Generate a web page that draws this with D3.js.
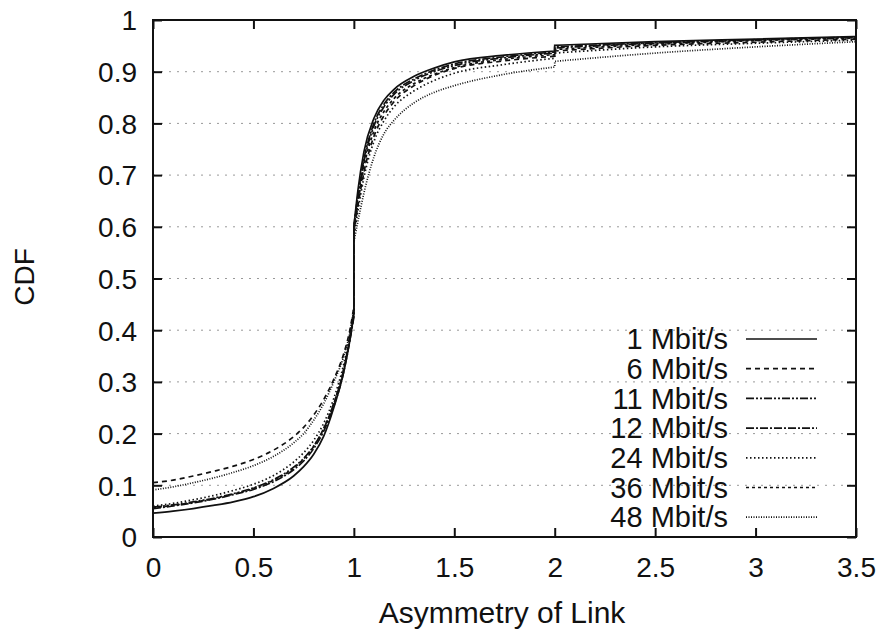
<!DOCTYPE html>
<html><head><meta charset="utf-8">
<script src="https://cdn.jsdelivr.net/npm/d3@7"></script>
<style>body{margin:0;background:#fff;} text{font-family:"Liberation Sans",Arial,Helvetica,sans-serif;fill:#111;}</style>
</head><body><svg id="c" width="881" height="634"></svg>
<script>
const xGrid = [0, 0.1, 0.2, 0.3, 0.4, 0.5, 0.6, 0.7, 0.75, 0.8, 0.85, 0.9, 0.95, 0.98, 1.0, 1.0, 1.02, 1.05, 1.1, 1.15, 1.2, 1.3, 1.4, 1.5, 1.75, 2.0, 2.0, 2.5, 3.0, 3.5];
const seriesNames = ["1 Mbit/s", "6 Mbit/s", "11 Mbit/s", "12 Mbit/s", "24 Mbit/s", "36 Mbit/s", "48 Mbit/s"];
const cdf1  = [0.046,0.050,0.055,0.061,0.068,0.078,0.094,0.118,0.136,0.160,0.195,0.250,0.320,0.380,0.430,0.600,0.670,0.745,0.810,0.845,0.866,0.891,0.907,0.919,0.932,0.940,0.951,0.958,0.963,0.968];
const cdf6  = [0.105,0.110,0.118,0.127,0.137,0.150,0.168,0.194,0.212,0.236,0.266,0.305,0.355,0.400,0.445,0.590,0.640,0.705,0.775,0.815,0.842,0.873,0.893,0.906,0.921,0.930,0.940,0.951,0.957,0.963];
const cdf11 = [0.058,0.062,0.068,0.075,0.084,0.095,0.111,0.135,0.152,0.176,0.210,0.258,0.325,0.385,0.430,0.600,0.655,0.725,0.795,0.832,0.856,0.883,0.900,0.912,0.927,0.936,0.946,0.955,0.961,0.966];
const cdf12 = [0.055,0.060,0.066,0.073,0.082,0.092,0.107,0.130,0.147,0.171,0.205,0.253,0.320,0.380,0.425,0.600,0.660,0.730,0.800,0.837,0.860,0.886,0.903,0.915,0.929,0.938,0.948,0.956,0.962,0.967];
const cdf24 = [0.060,0.065,0.072,0.080,0.090,0.102,0.119,0.145,0.163,0.187,0.220,0.268,0.335,0.390,0.440,0.580,0.630,0.695,0.765,0.805,0.832,0.863,0.883,0.897,0.914,0.926,0.936,0.948,0.955,0.961];
const cdf36 = [0.057,0.061,0.067,0.074,0.083,0.094,0.110,0.133,0.151,0.175,0.210,0.258,0.325,0.385,0.435,0.590,0.645,0.715,0.785,0.823,0.848,0.877,0.895,0.908,0.924,0.933,0.943,0.953,0.960,0.965];
const cdf48 = [0.091,0.097,0.105,0.114,0.125,0.138,0.156,0.182,0.200,0.226,0.258,0.300,0.350,0.395,0.440,0.570,0.610,0.665,0.735,0.780,0.806,0.840,0.860,0.873,0.895,0.909,0.920,0.936,0.948,0.958];
const xTicks = [0, 0.5, 1, 1.5, 2, 2.5, 3, 3.5];
const yTicks = [0, 0.1, 0.2, 0.3, 0.4, 0.5, 0.6, 0.7, 0.8, 0.9, 1];

const seriesValues = [cdf1, cdf6, cdf11, cdf12, cdf24, cdf36, cdf48];
const dashes = [null, "5,4", "8,2,2,2,2,2", "8,2,2,2", "1.5,2.5", "3,3", "1,1.5"];

const svg = d3.select("#c");
const L = 153, R = 856, T = 20, B = 537;
const x = d3.scaleLinear().domain([0, 3.5]).range([L, R]);
const y = d3.scaleLinear().domain([0, 1]).range([B, T]);

// grid
svg.append("g").selectAll("line").data(yTicks.filter(d => d > 0 && d < 1)).join("line")
  .attr("x1", L).attr("x2", R).attr("y1", d => y(d)).attr("y2", d => y(d))
  .attr("stroke", "#999").attr("stroke-width", 1).attr("stroke-dasharray", "2,6");

// curves: smooth segments split at the vertical jumps (repeated x values)
const smooth = d3.line().x(d => x(d[0])).y(d => y(d[1])).curve(d3.curveMonotoneX);
seriesValues.forEach((vals, i) => {
  const pts = xGrid.map((xv, k) => [xv, vals[k]]);
  const segs = [[pts[0]]];
  for (let k = 1; k < pts.length; k++) {
    if (pts[k][0] === pts[k - 1][0]) segs.push([pts[k]]);
    else segs[segs.length - 1].push(pts[k]);
  }
  let d = "";
  segs.forEach((s, j) => {
    let part = smooth(s);
    if (j > 0) part = "L" + part.slice(1);
    d += part;
  });
  svg.append("path").attr("d", d)
    .attr("fill", "none").attr("stroke", "#111").attr("stroke-width", 1.7)
    .attr("stroke-dasharray", dashes[i]);
});

// axes
const tickLen = 9;
const axB = d3.axisBottom(x).tickValues(xTicks).tickSize(tickLen).tickFormat(d3.format("~g"));
const gB = svg.append("g").attr("transform", `translate(0,${B})`).call(axB);
gB.selectAll(".tick line").attr("y2", -tickLen);
gB.selectAll("text").attr("y", 40).attr("dy", 0).style("font-size", "28px");
const axT = d3.axisTop(x).tickValues(xTicks).tickSize(-tickLen).tickFormat("");
svg.append("g").attr("transform", `translate(0,${T})`).call(axT);
const axL = d3.axisLeft(y).tickValues(yTicks).tickSize(-tickLen).tickFormat(d3.format("~g"));
const gL = svg.append("g").attr("transform", `translate(${L},0)`).call(axL);
gL.selectAll("text").attr("x", -16).attr("dy", "0.35em").style("font-size", "28px");
const axR = d3.axisRight(y).tickValues(yTicks).tickSize(-tickLen).tickFormat("");
svg.append("g").attr("transform", `translate(${R},0)`).call(axR);
svg.selectAll(".domain").remove();
svg.selectAll(".tick line").attr("stroke", "#111").attr("stroke-width", 2);
svg.append("rect").attr("x", L).attr("y", T).attr("width", R - L).attr("height", B - T)
  .attr("fill", "none").attr("stroke", "#111").attr("stroke-width", 2);

// labels
svg.append("text").attr("x", 502).attr("y", 623).attr("text-anchor", "middle")
  .style("font-size", "30px").text("Asymmetry of Link");
svg.append("text").attr("transform", "translate(34,277) rotate(-90)").attr("text-anchor", "middle")
  .style("font-size", "28px").text("CDF");

// legend
const lg = svg.append("g");
seriesNames.forEach((name, i) => {
  const yy = 339 + i * 29.7;
  lg.append("text").attr("x", 728).attr("y", yy).attr("dy", "0.35em").attr("text-anchor", "end")
    .style("font-size", "29px").text(name);
  lg.append("line").attr("x1", 746).attr("x2", 817).attr("y1", yy).attr("y2", yy)
    .attr("stroke", "#111").attr("stroke-width", 1.7).attr("stroke-dasharray", dashes[i]);
});
</script></body></html>
